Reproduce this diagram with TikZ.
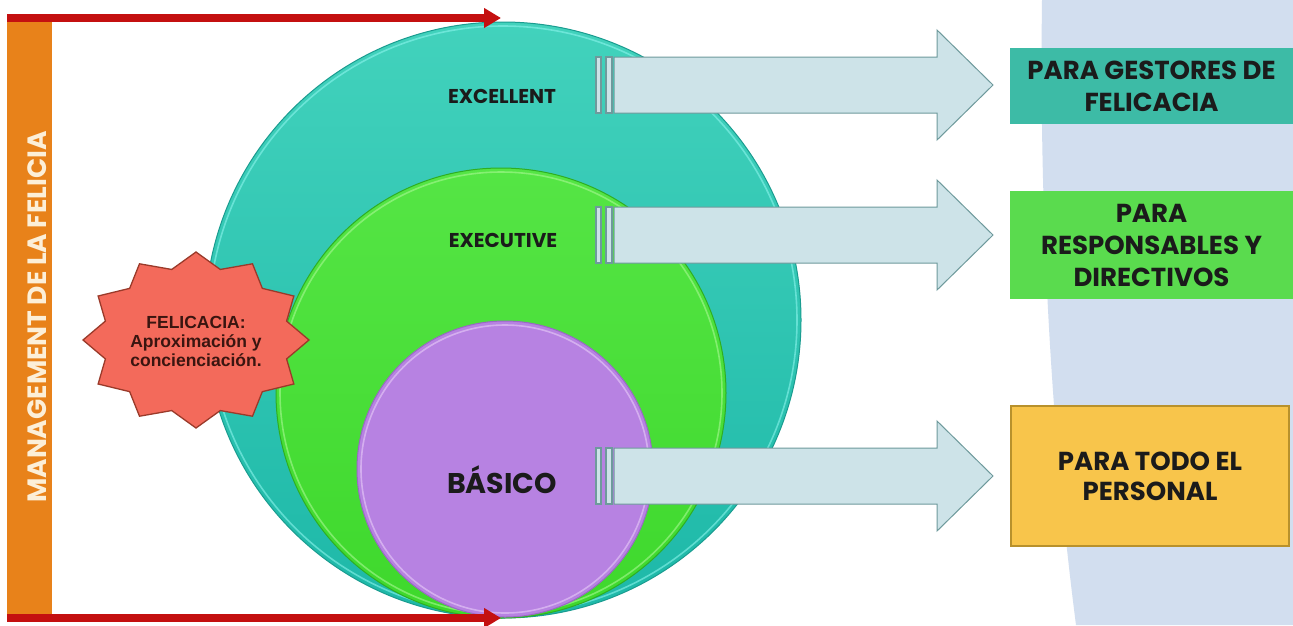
\documentclass[tikz,border=0pt]{standalone}
\usepackage{fontspec}
\newfontfamily\pop{Poppins}
\newfontfamily\arl{Liberation Sans}
\usetikzlibrary{arrows.meta}
\definecolor{tealc}{HTML}{2EC5B0}
\definecolor{tealtop}{HTML}{42D2BC}
\definecolor{tealbot}{HTML}{1DB8A8}
\definecolor{tealdark}{HTML}{1A9C90}
\definecolor{tealrim}{HTML}{8AF4EC}
\definecolor{greentop}{HTML}{55E545}
\definecolor{greenbot}{HTML}{3ED82C}
\definecolor{greendark}{HTML}{2FAE22}
\definecolor{greenrim}{HTML}{A8F893}
\definecolor{purplec}{HTML}{B782E2}
\definecolor{purpledark}{HTML}{9A68C5}
\definecolor{purplerim}{HTML}{E8CCF8}
\definecolor{arrc}{HTML}{CDE3E8}
\definecolor{arredge}{HTML}{6E9A9C}
\definecolor{box1c}{HTML}{3DBBA6}
\definecolor{box2c}{HTML}{5ADB4E}
\definecolor{box3c}{HTML}{F8C54B}
\definecolor{box3edge}{HTML}{B8912C}
\definecolor{panelc}{HTML}{D2DEEF}
\definecolor{redc}{HTML}{C41010}
\definecolor{orangec}{HTML}{E8821A}
\definecolor{cream}{HTML}{FCEFD8}
\definecolor{starc}{HTML}{F36A5B}
\definecolor{stardark}{HTML}{9A3A2A}
\definecolor{textdark}{HTML}{1B1B1B}
\definecolor{startext}{HTML}{3A1510}
\tikzset{
  circ/.style={circle, inner sep=0pt, outer sep=0pt, line width=1pt},
  rim/.style={line width=1.6pt, opacity=0.6},
  lbl/.style={font=\pop\bfseries\fontsize{20}{24}\selectfont, text=textdark, inner sep=0pt},
  boxtxt/.style={font=\pop\bfseries\fontsize{26}{32}\selectfont, text=textdark, align=center, inner sep=0pt, outer sep=0pt},
  blockarr/.style={fill=arrc, draw=arredge, line width=1pt, line join=miter},
  redline/.style={draw=redc, line width=7.5pt, -{Triangle[length=17pt,width=19pt]}},
}
\newcommand\blockarrow[1]{%
  \draw[blockarr] (614,#1-28) -- (937,#1-28) -- (937,#1-55) -- (993,#1) -- (937,#1+55) -- (937,#1+28) -- (614,#1+28) -- cycle;
  \draw[blockarr, line width=1.3pt] (596,#1-28) rectangle (601,#1+28);
  \draw[blockarr, line width=1.3pt] (606,#1-28) rectangle (612,#1+28);
}
\begin{document}
\begin{tikzpicture}[x=1pt,y=-1pt]
\useasboundingbox (0,0) rectangle (1293,625);
\fill[white] (0,0) rectangle (1293,625);
% right panel
\fill[panelc] (1042,0) .. controls (1039,220) and (1052,440) .. (1076,625) -- (1293,625) -- (1293,0) -- cycle;
% orange bar
\node[fill=orangec, minimum width=45pt, minimum height=595pt, inner sep=0pt, outer sep=0pt] (bar) at (29.5,317.5) {};
\node[rotate=90, text=cream, font=\pop\bfseries\fontsize{26.5}{26.5}\selectfont, inner sep=0pt] (bartext) at (37,317) {MANAGEMENT DE LA FELICIA};
% circles
\node[circ, top color=tealtop, bottom color=tealbot, draw=tealdark, minimum size=596pt] (exc) at (503,320) {};
\draw[rim, tealrim] (exc.center) circle[radius=294];
\node[circ, top color=greentop, bottom color=greenbot, draw=greendark, minimum size=450pt] (exe) at (501,393) {};
\draw[rim, greenrim] (exe.center) circle[radius=221];
\node[circ, fill=purplec, draw=purpledark, minimum size=296pt] (bas) at (505,469) {};
\draw[rim, purplerim] (bas.center) circle[radius=144];
\node[lbl] (excl) at (502,96) {EXCELLENT};
\node[lbl] (exel) at (503,240) {EXECUTIVE};
\node[lbl, font=\pop\bfseries\fontsize{28.5}{32}\selectfont] (basl) at (502,480) {BÁSICO};
% star
\draw[fill=starc, draw=stardark, line width=1.3pt, line join=miter]
  plot[samples at={0,15,...,345}] ({196+113*(1-0.17*mod(\x/15,2))*cos(\x)}, {340-88*(1-0.17*mod(\x/15,2))*sin(\x)}) -- cycle;
\node[font=\arl\bfseries\fontsize{17.5}{19}\selectfont, text=startext, align=center, inner sep=0pt] (star) at (196,341) {FELICACIA:\\Aproximación y\\concienciación.};
% block arrows
\blockarrow{85}
\blockarrow{235}
\blockarrow{476}
% boxes
\node[boxtxt, fill=box1c, minimum width=283pt, minimum height=76pt] (b1) at (1151.5,86) {PARA GESTORES DE\\FELICACIA};
\node[boxtxt, fill=box2c, minimum width=283pt, minimum height=108pt] (b2) at (1151.5,245) {PARA\\RESPONSABLES Y\\DIRECTIVOS};
\node[boxtxt, fill=box3c, draw=box3edge, line width=2pt, minimum width=278pt, minimum height=140pt, font=\pop\bfseries\fontsize{26}{30}\selectfont] (b3) at (1150,476) {PARA TODO EL\\PERSONAL};
% red arrows
\coordinate (tl) at (7,18);
\coordinate (tr) at (501,18);
\coordinate (bl) at (7,618);
\coordinate (br) at (501,618);
\draw[redline] (tl) -- (tr);
\draw[redline] (bl) -- (br);
\end{tikzpicture}
\end{document}
